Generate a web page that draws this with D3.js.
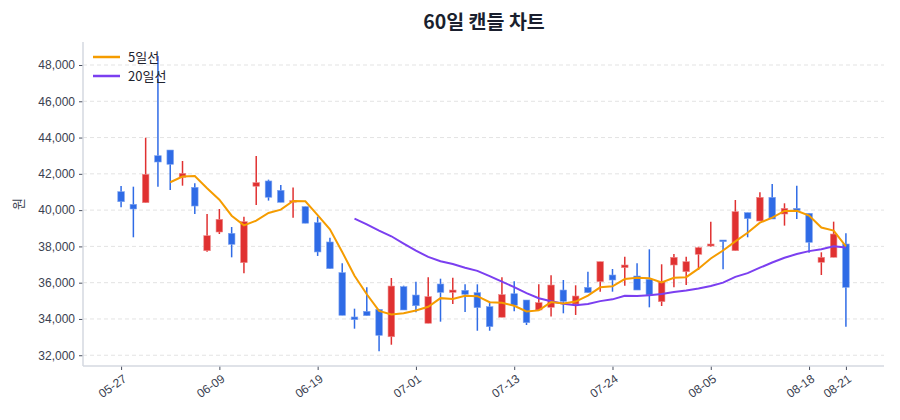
<!DOCTYPE html>
<html>
<head>
<meta charset="utf-8">
<script src="https://cdn.jsdelivr.net/npm/d3@7"></script>
<style>
  body { margin: 0; background: #fff; }
  svg { font-family: "Noto Sans CJK KR", "Noto Sans", sans-serif; }
</style>
</head>
<body>
<svg id="chart" width="900" height="420"></svg>
<script>
// 60 trading days (2026)
const dates = [
  "05-27","05-28","05-29","06-01","06-02","06-04","06-05","06-08","06-09","06-10",
  "06-11","06-12","06-15","06-16","06-17","06-18","06-19","06-22","06-23","06-24",
  "06-25","06-26","06-29","06-30","07-01","07-02","07-03","07-06","07-07","07-08",
  "07-09","07-10","07-13","07-14","07-15","07-16","07-20","07-21","07-22","07-23",
  "07-24","07-27","07-28","07-29","07-30","07-31","08-03","08-04","08-05","08-06",
  "08-07","08-10","08-11","08-12","08-13","08-14","08-18","08-19","08-20","08-21"
];
const opens = [
  41016,40321,40410,43000,43313,41809,41257,37763,38794,38722,
  37103,41316,41607,41091,40480,40193,39309,38243,36554,34110,
  34420,34530,33020,35780,35320,33763,35927,35470,35580,35450,
  34678,34094,35392,35045,34495,34642,35595,34824,35745,36055,
  36423,36828,36368,36185,34953,36975,36605,37565,38022,38353,
  37763,39860,39400,40706,39786,40100,39824,37124,37400,38132
];
const highs = [
  41330,41292,43993,48496,43313,42708,41477,39786,40062,39069,
  39640,42984,41680,41385,41242,40193,39640,38480,37069,34567,
  35743,34530,36257,35835,36055,36296,36220,36275,35910,35910,
  34953,36296,36076,35045,35910,36405,36147,35856,36605,37157,
  36753,37432,37069,37840,37014,37580,37432,37985,39364,38353,
  40557,39860,40981,41440,40376,41347,39824,37675,39364,38722
];
const lows = [
  40155,38502,40410,41292,41109,41347,39786,37708,38683,37398,
  36518,40282,40524,40430,39586,39278,37474,36773,34201,33464,
  34180,32218,32580,34495,34367,33763,33850,34825,34383,33351,
  33351,34094,34422,33667,34495,34129,34312,34220,35450,35504,
  35504,35834,35595,34642,34715,35745,35870,36700,37985,36737,
  37763,38502,39400,39510,39145,39510,37653,36423,37400,33575
];
const closes = [
  40464,40062,41975,42653,42526,42030,40226,38590,39494,38116,
  39364,41516,40710,40430,40520,39278,37694,36773,34201,33960,
  34180,33097,35815,34495,34730,35230,35468,35595,35360,34623,
  33575,35340,34750,33796,34900,35871,34972,35265,35450,37157,
  36148,36975,35595,35320,36055,37400,37157,37930,38132,38260,
  39916,39530,40706,39510,40100,39970,38225,37400,38683,35745
];
const yTicks = [32000, 34000, 36000, 38000, 40000, 42000, 44000, 46000, 48000];
const xTickIdx = [0, 8, 16, 24, 32, 40, 48, 56, 59];

const UP = "#e03131", DOWN = "#2f6be6";
const MA5C = "#f59c00", MA20C = "#7b3ff0";

const svg = d3.select("#chart");
const pLeft = 83, pRight = 884, pTop = 42, pBottom = 366;

const x = d3.scaleLinear().domain([-3.1, 62.1]).range([pLeft, pRight]);
const y = d3.scaleLinear().domain([31407, 49268]).range([pBottom, pTop]);

// rolling means from closes
function rolling(n) {
  return closes.map((c, i) => i < n - 1 ? null : d3.mean(closes.slice(i - n + 1, i + 1)));
}
const ma5 = rolling(5), ma20 = rolling(20);

// grid
svg.append("g").selectAll("line").data(yTicks).join("line")
  .attr("x1", pLeft).attr("x2", pRight)
  .attr("y1", d => y(d)).attr("y2", d => y(d))
  .attr("stroke", "#e3e3e3").attr("stroke-dasharray", "4,3").attr("stroke-width", 1);

// axes
const yAxis = svg.append("g").attr("transform", `translate(${pLeft},0)`)
  .call(d3.axisLeft(y).tickValues(yTicks).tickFormat(d3.format(",")).tickSize(4).tickPadding(4));
const xAxis = svg.append("g").attr("transform", `translate(0,${pBottom})`)
  .call(d3.axisBottom(x).tickValues(xTickIdx).tickFormat(i => dates[i]).tickSize(4).tickPadding(3));
[yAxis, xAxis].forEach(a => {
  a.select(".domain").remove();
  a.selectAll(".tick line").attr("stroke", "#4a5060");
  a.selectAll(".tick text").attr("fill", "#3a4150").attr("font-size", 12);
});
xAxis.selectAll(".tick text")
  .attr("text-anchor", "end").attr("dx", "-0.3em").attr("dy", "0.7em")
  .attr("transform", "rotate(-35)");

// spines
svg.append("line").attr("x1", pLeft).attr("x2", pLeft).attr("y1", pTop).attr("y2", pBottom)
  .attr("stroke", "#d5d9e0").attr("stroke-width", 1.5);
svg.append("line").attr("x1", pLeft).attr("x2", pRight).attr("y1", pBottom).attr("y2", pBottom)
  .attr("stroke", "#d5d9e0").attr("stroke-width", 1.5);

// candles
const idx = d3.range(dates.length);
const bw = 6.6;
const candles = svg.append("g").selectAll("g").data(idx).join("g");
candles.append("line")
  .attr("x1", i => x(i)).attr("x2", i => x(i))
  .attr("y1", i => y(highs[i])).attr("y2", i => y(lows[i]))
  .attr("stroke", i => closes[i] >= opens[i] ? UP : DOWN).attr("stroke-width", 1.5);
candles.append("rect")
  .attr("x", i => x(i) - bw / 2).attr("width", bw)
  .attr("y", i => y(Math.max(opens[i], closes[i])))
  .attr("height", i => Math.max(1.5, Math.abs(y(opens[i]) - y(closes[i]))))
  .attr("fill", i => closes[i] >= opens[i] ? UP : DOWN)
  .attr("stroke", i => closes[i] >= opens[i] ? "#ee8a8a" : "#7fa4f0").attr("stroke-width", 0.6);

// moving averages
const line = d3.line().defined(d => d[1] != null).x(d => x(d[0])).y(d => y(d[1]));
svg.append("path").datum(ma20.map((v, i) => [i, v]))
  .attr("d", line).attr("fill", "none").attr("stroke", MA20C).attr("stroke-width", 2);
svg.append("path").datum(ma5.map((v, i) => [i, v]))
  .attr("d", line).attr("fill", "none").attr("stroke", MA5C).attr("stroke-width", 2);

// legend
const legend = [["5일선", MA5C], ["20일선", MA20C]];
const lg = svg.append("g").selectAll("g").data(legend).join("g")
  .attr("transform", (d, i) => `translate(93,${57 + i * 19})`);
lg.append("line").attr("x1", 0).attr("x2", 27).attr("stroke", d => d[1]).attr("stroke-width", 2.5);
lg.append("text").attr("x", 35).attr("dy", "0.35em").attr("font-size", 13).attr("fill", "#1f2430")
  .text(d => d[0]);

// title and y label
svg.append("text").attr("x", 484).attr("y", 29)
  .attr("text-anchor", "middle").attr("font-size", 19.5).attr("font-weight", "bold").attr("fill", "#1a1f2e")
  .text("60일 캔들 차트");
svg.append("text").attr("transform", `translate(23,${(pTop + pBottom) / 2}) rotate(-90)`)
  .attr("text-anchor", "middle").attr("font-size", 13).attr("fill", "#3a4150").text("원");
</script>
</body>
</html>
